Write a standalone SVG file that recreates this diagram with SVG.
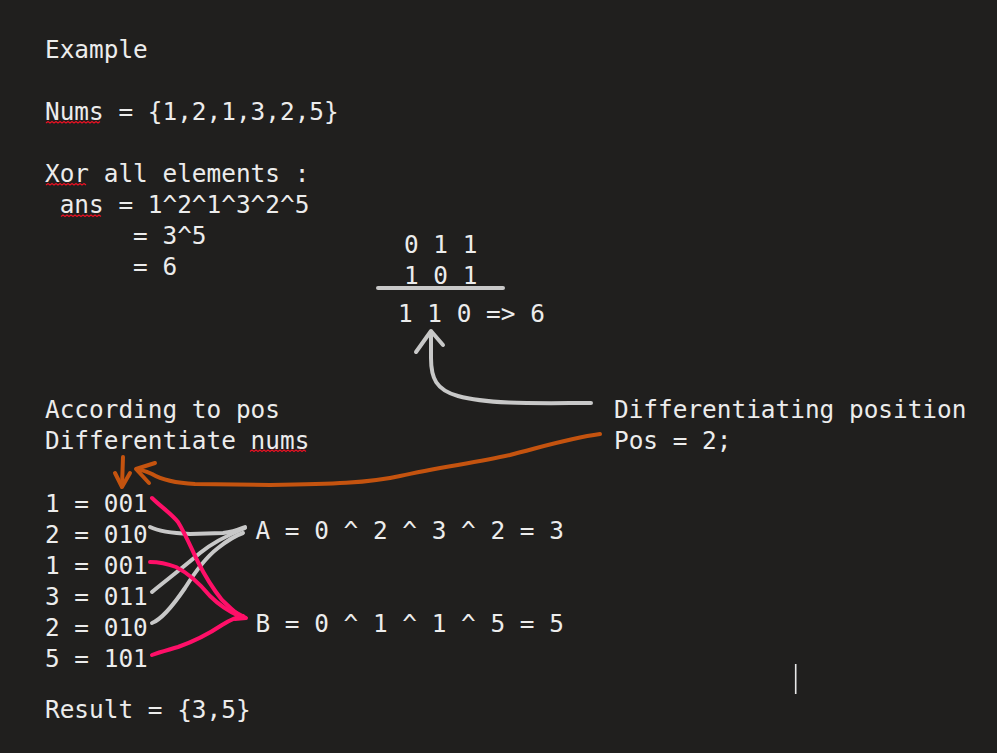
<svg xmlns="http://www.w3.org/2000/svg" width="997" height="753" viewBox="0 0 997 753">
<style>
.t{font-family:"DejaVu Sans Mono","Liberation Mono",monospace;font-size:24.4px;fill:#ececec;white-space:pre}
.sq{fill:none;stroke:#e81123;stroke-width:1.2}
.g{fill:none;stroke:#c8c8c8;stroke-width:4;stroke-linecap:round;stroke-linejoin:round}
.o{fill:none;stroke:#c4530f;stroke-width:4;stroke-linecap:round;stroke-linejoin:round}
.p{fill:none;stroke:#ff0f68;stroke-width:4;stroke-linecap:round;stroke-linejoin:round}
</style>
<rect width="997" height="753" fill="#201f1e"/>
<g id="example">
<text class="t" x="45" y="57.5" xml:space="preserve">Example</text>
<text class="t" x="45" y="119.5" xml:space="preserve">Nums = {1,2,1,3,2,5}</text>
<text class="t" x="45" y="181.5" xml:space="preserve">Xor all elements :</text>
<text class="t" x="45" y="212.5" xml:space="preserve"> ans = 1^2^1^3^2^5</text>
<text class="t" x="45" y="243.5" xml:space="preserve">      = 3^5</text>
<text class="t" x="45" y="274.5" xml:space="preserve">      = 6</text>
</g>
<g id="squiggles">
<path class="sq" d="M46 123 l2 -1.5 l2 1.5 l2 -1.5 l2 1.5 l2 -1.5 l2 1.5 l2 -1.5 l2 1.5 l2 -1.5 l2 1.5 l2 -1.5 l2 1.5 l2 -1.5 l2 1.5 l2 -1.5 l2 1.5 l2 -1.5 l2 1.5 l2 -1.5 l2 1.5 l2 -1.5 l2 1.5 l2 -1.5 l2 1.5 l2 -1.5 l2 1.5 l2 -1.5"/>
<path class="sq" d="M46 185 l2 -1.5 l2 1.5 l2 -1.5 l2 1.5 l2 -1.5 l2 1.5 l2 -1.5 l2 1.5 l2 -1.5 l2 1.5 l2 -1.5 l2 1.5 l2 -1.5 l2 1.5 l2 -1.5 l2 1.5 l2 -1.5 l2 1.5 l2 -1.5 l2 1.5"/>
<path class="sq" d="M61 216.5 l2 -1.5 l2 1.5 l2 -1.5 l2 1.5 l2 -1.5 l2 1.5 l2 -1.5 l2 1.5 l2 -1.5 l2 1.5 l2 -1.5 l2 1.5 l2 -1.5 l2 1.5 l2 -1.5 l2 1.5 l2 -1.5 l2 1.5 l2 -1.5 l2 1.5"/>
<path class="sq" d="M250 451.5 l2 -1.5 l2 1.5 l2 -1.5 l2 1.5 l2 -1.5 l2 1.5 l2 -1.5 l2 1.5 l2 -1.5 l2 1.5 l2 -1.5 l2 1.5 l2 -1.5 l2 1.5 l2 -1.5 l2 1.5 l2 -1.5 l2 1.5 l2 -1.5 l2 1.5 l2 -1.5 l2 1.5 l2 -1.5 l2 1.5 l2 -1.5 l2 1.5 l2 -1.5 l2 1.5"/>
</g>
<g id="binary-sum">
<text class="t" x="404" y="252.5" xml:space="preserve">0 1 1</text>
<text class="t" x="404" y="283.5" xml:space="preserve">1 0 1</text>
<line x1="378" y1="288" x2="503" y2="288" stroke="#c8c8c8" stroke-width="4" stroke-linecap="round"/>
<text class="t" x="398" y="321.5" xml:space="preserve">1 1 0 =&gt; 6</text>
</g>
<g id="differentiating">
<text class="t" x="614" y="417.5" xml:space="preserve">Differentiating position</text>
<text class="t" x="614" y="448.5" xml:space="preserve">Pos = 2;</text>
</g>
<g id="according">
<text class="t" x="45" y="417.5" xml:space="preserve">According to pos</text>
<text class="t" x="45" y="448.5" xml:space="preserve">Differentiate nums</text>
</g>
<g id="nums-binary">
<text class="t" x="45" y="511.5" xml:space="preserve">1 = 001</text>
<text class="t" x="45" y="542.5" xml:space="preserve">2 = 010</text>
<text class="t" x="45" y="573.5" xml:space="preserve">1 = 001</text>
<text class="t" x="45" y="604.5" xml:space="preserve">3 = 011</text>
<text class="t" x="45" y="635.5" xml:space="preserve">2 = 010</text>
<text class="t" x="45" y="666.5" xml:space="preserve">5 = 101</text>
</g>
<g id="groupA"><text class="t" x="255.5" y="538.5" xml:space="preserve">A = 0 ^ 2 ^ 3 ^ 2 = 3</text></g>
<g id="groupB"><text class="t" x="255.5" y="631.5" xml:space="preserve">B = 0 ^ 1 ^ 1 ^ 5 = 5</text></g>
<g id="result"><text class="t" x="45" y="717.5" xml:space="preserve">Result = {3,5}</text></g>
<g id="connectors">
<path class="g" d="M591 403 C545 403 490 405 458 396 C436 390 431 378 431 358 L431 332"/>
<path class="g" d="M416 352 L431 331 L443 345"/>
<path class="o" d="M600 434 C570 438 545 446 510 455 C475 463 440 467 400 476 C370 483 330 484 270 485 L195 484 C175 483 162 480 152 474 C146 471 141 470 137 469"/>
<path class="o" d="M155 463 L136 469 L149 483"/>
<path class="o" d="M123 457 L122 486"/>
<path class="o" d="M115 473 L122 487 L130 473"/>
<path class="g" stroke-width="3.5" d="M150 527 C158 531 170 533 190 534 L223 533 C233 532 240 529 245 527"/>
<path class="g" stroke-width="3.5" d="M152 592 C160 585 180 570 200 553 C212 543 228 535 245 528"/>
<path class="g" stroke-width="3.5" d="M152 623 C160 620 170 610 185 588 C195 572 205 558 218 548 C228 540 237 535 243 533"/>
<path class="p" d="M152 498 C160 506 172 514 178 522 C186 535 192 550 198 562 C206 578 214 590 222 600 C230 608 236 613 241 617"/>
<path class="p" d="M150 562 C160 562 168 564 176 567 C190 574 200 584 210 596 C220 606 230 612 241 617"/>
<path class="p" d="M152 655 C160 652 168 650 178 647 C195 641 210 633 222 625 C230 620 236 617 243 616"/>
<path class="p" stroke-width="3" d="M233 611 L246 618 L235 619"/>
<line x1="795.7" y1="664" x2="795.7" y2="694" stroke="#e8e8e8" stroke-width="1.6"/>
</g>
</svg>
